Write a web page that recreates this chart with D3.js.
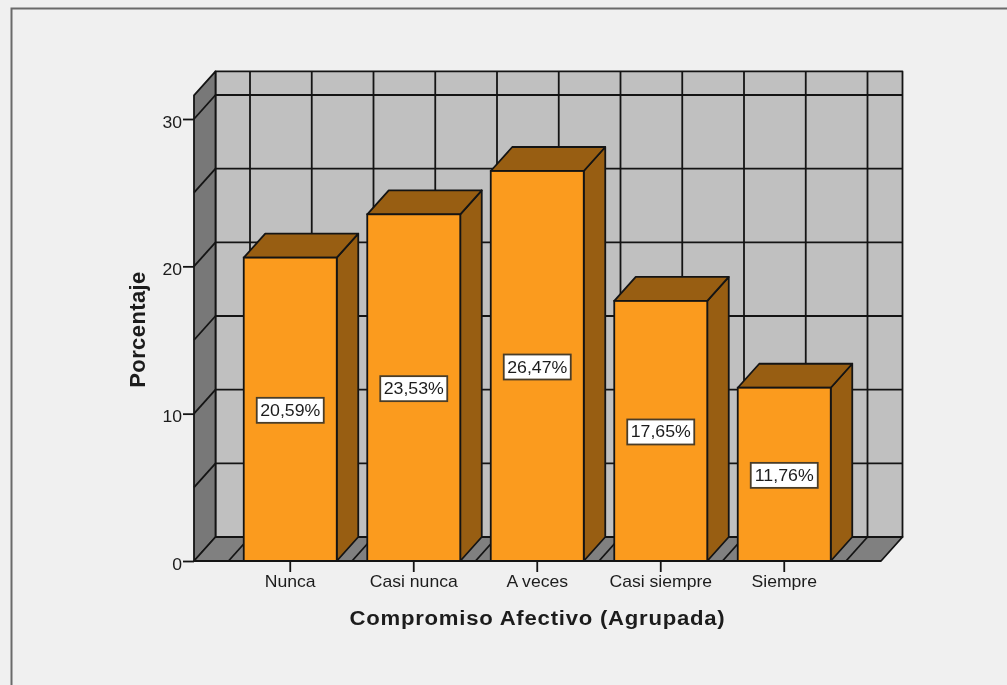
<!DOCTYPE html>
<html><head><meta charset="utf-8">
<script src="https://cdn.jsdelivr.net/npm/d3@7"></script>
<style>
html,body{margin:0;padding:0;background:#f0f0f0;overflow:hidden}
svg{display:block;filter:blur(0.45px)}
text{font-family:"Liberation Sans",Arial,sans-serif;fill:#1c1c1c}
</style></head><body>
<svg id="c" width="1007" height="685"></svg>
<script>
const categories = ["Nunca","Casi nunca","A veces","Casi siempre","Siempre"];
const percentages = [20.59,23.53,26.47,17.65,11.76];
const labels = ["20,59%","23,53%","26,47%","17,65%","11,76%"];
const yTickValues = [0,10,20,30];
const yGridValues = [5,10,15,20,25,30];
const yAxisMax = 31.6;
const xTitle = "Compromiso Afectivo (Agrupada)";
const yTitle = "Porcentaje";

const dark="#141414", wall="#c0c0c0", side="#787878", floorC="#808080", barC="#fb9b1e", barD="#985e12", txt="#262626";
const dx=21.5, dy=-24, y0px=561;
const svg=d3.select("#c");
const y=d3.scaleLinear().domain([0,30]).range([y0px,119]);
const x=d3.scaleBand().domain(categories).range([228.5,846]).paddingInner(0).paddingOuter(0);
const left=194, right=881, topY=y(yAxisMax);
const bw=93;
const sw0=1.8;
const sx=1.1;
const cx=c=>x(c)+x.bandwidth()/2;
const poly=(pts,fill,sw=sw0)=>svg.append("polygon").attr("points",pts.map(p=>p.join(",")).join(" ")).attr("fill",fill).attr("stroke",dark).attr("stroke-width",sw).attr("stroke-linejoin","round");
const line=(a,b,sw=sw0,col=dark)=>svg.append("line").attr("x1",a[0]).attr("y1",a[1]).attr("x2",b[0]).attr("y2",b[1]).attr("stroke",col).attr("stroke-width",sw);

// frame
svg.append("path").attr("d","M11.5,685V8.5H1007").attr("fill","none").attr("stroke","#6a6a6a").attr("stroke-width",2);

// walls
poly([[left+dx,topY+dy],[right+dx,topY+dy],[right+dx,y0px+dy],[left+dx,y0px+dy]],wall);
poly([[left,topY],[left+dx,topY+dy],[left+dx,y0px+dy],[left,y0px]],side);
poly([[left,y0px],[left+dx,y0px+dy],[right+dx,y0px+dy],[right,y0px]],floorC);

// grid
yGridValues.forEach(v=>{
  line([left,y(v)],[left+dx,y(v)+dy]);
  line([left+dx,y(v)+dy],[right+dx,y(v)+dy]);
});
const edges=[x.range()[0],...categories.map(cx),...categories.map(c=>x(c)+x.bandwidth())].sort((a,b)=>a-b);
edges.forEach(e=>{
  line([e,y0px],[e+dx,y0px+dy]);
  line([e+dx,y0px+dy],[e+dx,topY+dy]);
});

// bars
categories.forEach((c,i)=>{
  const v=percentages[i], xl=cx(c)-bw/2, xr=cx(c)+bw/2, t=y(v);
  poly([[xr,t],[xr+dx,t+dy],[xr+dx,y0px+dy],[xr,y0px]],barD);
  poly([[xl,t],[xl+dx,t+dy],[xr+dx,t+dy],[xr,t]],barD);
  svg.append("rect").attr("x",xl).attr("y",t).attr("width",bw).attr("height",y0px-t).attr("fill",barC).attr("stroke",dark).attr("stroke-width",sw0);
});
// front floor edge
line([left,y0px],[right,y0px]);

// axes
const ax=svg.append("g").attr("transform",`translate(${left},0)`).call(d3.axisLeft(y).tickValues(yTickValues).tickSize(11).tickSizeOuter(0).tickPadding(0));
ax.select(".domain").remove();
ax.selectAll("line").attr("stroke",dark).attr("stroke-width",sw0);
ax.selectAll("text").attr("font-size",16).attr("x",-12/sx).attr("dy","8px").attr("transform",`scale(${sx},1)`).attr("fill",txt);
const bx=svg.append("g").attr("transform",`translate(0,${y0px})`).call(d3.axisBottom(x).tickSize(11).tickSizeOuter(0).tickPadding(4));
bx.select(".domain").remove();
bx.selectAll("line").attr("stroke",dark).attr("stroke-width",sw0);
bx.selectAll("text").attr("font-size",16).attr("transform",`scale(${sx},1)`).attr("fill",txt);

// value labels
categories.forEach((c,i)=>{
  const cy=y(percentages[i]/2)+1;
  svg.append("rect").attr("x",cx(c)-33.5).attr("y",cy-12.5).attr("width",67).attr("height",25).attr("fill","#fff").attr("stroke","#4a3d28").attr("stroke-width",sw0);
  svg.append("text").attr("transform",`translate(${cx(c)},${cy+5.5}) scale(1.11,1)`).attr("text-anchor","middle").attr("font-size",16).attr("fill",txt).text(labels[i]);
});

// titles
svg.append("text").attr("transform","translate(537.5,624.5) scale(1.08,1)").attr("text-anchor","middle").attr("font-size",20.5).attr("font-weight","bold").attr("letter-spacing",0.7).attr("fill","#111").text(xTitle);
svg.append("text").attr("transform","translate(144.5,329.5) rotate(-90)").attr("text-anchor","middle").attr("font-size",22).attr("font-weight","bold").attr("letter-spacing",0.4).attr("fill","#111").text(yTitle);
</script>
</body></html>
